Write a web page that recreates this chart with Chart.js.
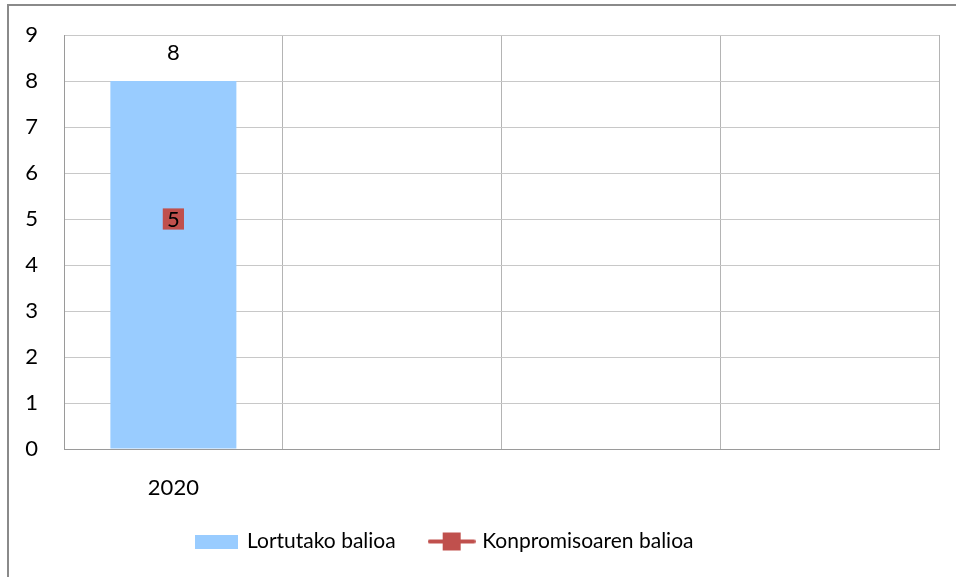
<!DOCTYPE html>
<html lang="eu">
<head>
<meta charset="UTF-8">
<title>Balioak</title>
<script src="https://cdn.jsdelivr.net/npm/chart.js@4.4.1/dist/chart.umd.min.js"></script>
<style>
    body { margin: 0; background: #fff; overflow: hidden; }
    #wrap { position: relative; width: 956px; height: 577px; }
    #frame {
        position: absolute; left: 7px; top: 4px; width: 1000px; height: 1000px;
        border-left: 2px solid #8a8a8a; border-top: 2px solid #8a8a8a;
        pointer-events: none;
    }
</style>
</head>
<body>
<div id="wrap">
    <canvas id="grafica" width="956" height="577"></canvas>
    <div id="frame"></div>
</div>
<script>
    // datos
    const urteak = ['2020', '', '', ''];
    const lortutakoBalioa = [8, null, null, null];
    const konpromisoBalioa = [5, null, null, null];
    const yTicks = [0, 1, 2, 3, 4, 5, 6, 7, 8, 9];

    const blue = '#99CCFF';
    const red = '#C0504D';
    const FONT = 'Lato, "Open Sans", sans-serif';

    // iconos de la leyenda
    function boxIcon() {
        const c = document.createElement('canvas');
        c.width = 43; c.height = 14;
        const g = c.getContext('2d');
        g.fillStyle = blue;
        g.fillRect(0, 0, 43, 14);
        return c;
    }
    function lineIcon() {
        const c = document.createElement('canvas');
        c.width = 48; c.height = 20;
        const g = c.getContext('2d');
        g.strokeStyle = red;
        g.lineWidth = 4;
        g.lineCap = 'round';
        g.beginPath();
        g.moveTo(2, 10); g.lineTo(46, 10);
        g.stroke();
        g.fillStyle = red;
        g.fillRect(15, 1, 18, 18);
        return c;
    }

    // etiquetas de valores
    const valueLabels = {
        id: 'valueLabels',
        afterDatasetsDraw(chart) {
            const ctx = chart.ctx;
            ctx.save();
            ctx.font = '22px ' + FONT;
            ctx.fillStyle = '#000';
            ctx.textAlign = 'center';
            ctx.textBaseline = 'middle';
            chart.getDatasetMeta(0).data.forEach((el, i) => {
                const v = lortutakoBalioa[i];
                if (v == null) return;
                ctx.fillText(String(v), el.x, el.y - 28);
            });
            chart.getDatasetMeta(1).data.forEach((el, i) => {
                const v = konpromisoBalioa[i];
                if (v == null) return;
                ctx.fillText(String(v), el.x, el.y + 1);
            });
            ctx.restore();
        }
    };

    // mover la leyenda un poco a la izquierda
    const legendShift = {
        id: 'legendShift',
        afterLayout(chart) {
            if (chart.legend) chart.legend.right = 890;
        }
    };

    new Chart(document.getElementById('grafica'), {
        type: 'bar',
        data: {
            labels: urteak,
            datasets: [
                {
                    type: 'bar',
                    label: 'Lortutako balioa',
                    data: lortutakoBalioa,
                    backgroundColor: blue,
                    borderWidth: 0,
                    barPercentage: 0.576,
                    categoryPercentage: 1,
                    order: 2
                },
                {
                    type: 'line',
                    label: 'Konpromisoaren balioa',
                    data: konpromisoBalioa,
                    borderColor: red,
                    backgroundColor: red,
                    borderWidth: 3,
                    pointStyle: 'rect',
                    pointRadius: 15,
                    pointBorderWidth: 0,
                    order: 1
                }
            ]
        },
        options: {
            responsive: false,
            animation: false,
            layout: { padding: { top: 35, right: 17, left: 0, bottom: 15 } },
            scales: {
                x: {
                    grid: { offset: true, color: '#b4b4b4', drawTicks: false },
                    border: { color: '#9a9a9a', width: 1 },
                    ticks: { color: '#000', font: { family: FONT, size: 22 }, padding: 26, maxRotation: 0 },
                    afterFit(s) { s.height = 46; }
                },
                y: {
                    min: 0, max: 9,
                    afterBuildTicks(s) { s.ticks = yTicks.map(v => ({ value: v })); },
                    grid: { color: '#c8c8c8', drawTicks: true, tickLength: 22, tickColor: 'rgba(0,0,0,0)' },
                    border: { color: '#9a9a9a', width: 1 },
                    ticks: { color: '#000', font: { family: FONT, size: 22 }, padding: 4 },
                    afterFit(s) { s.width = 64; }
                }
            },
            plugins: {
                legend: {
                    position: 'bottom',
                    labels: {
                        color: '#000',
                        font: { family: FONT, size: 21 },
                        usePointStyle: true,
                        pointStyleWidth: 40,
                        padding: 36,
                        generateLabels() {
                            return [
                                { text: 'Lortutako balioa', pointStyle: boxIcon(), datasetIndex: 0, fontColor: '#000', lineWidth: 0 },
                                { text: 'Konpromisoaren balioa', pointStyle: lineIcon(), datasetIndex: 1, fontColor: '#000', lineWidth: 0 }
                            ];
                        }
                    }
                },
                tooltip: { enabled: false }
            }
        },
        plugins: [valueLabels, legendShift]
    });
</script>
</body>
</html>
